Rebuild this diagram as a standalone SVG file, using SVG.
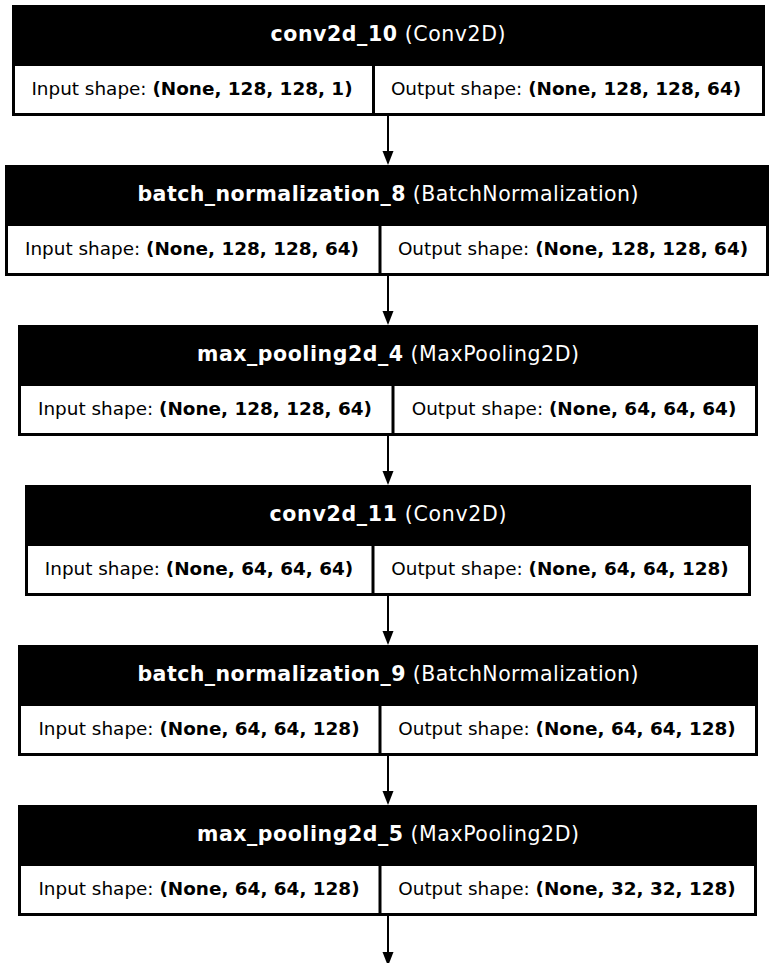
<svg xmlns="http://www.w3.org/2000/svg" width="776" height="963" viewBox="0 0 776 963">
<style>
.box{fill:#000}
.cell{fill:#fff}
.hd{font-family:"DejaVu Sans",sans-serif;font-size:20.5px;fill:#fff;text-anchor:middle}
.ct{font-family:"DejaVu Sans",sans-serif;font-size:18.4px;fill:#000;text-anchor:middle}
.b{font-weight:bold}
.edge{stroke:#000;stroke-width:2;fill:none}
</style>
<rect width="776" height="963" fill="#fff"/>
<g id="connectors">
<line class="edge" x1="388" y1="116" x2="388" y2="151"/><path d="M382.5,151 L393.5,151 L388,165 Z"/>
<line class="edge" x1="388" y1="276" x2="388" y2="311"/><path d="M382.5,311 L393.5,311 L388,325 Z"/>
<line class="edge" x1="388" y1="436" x2="388" y2="471"/><path d="M382.5,471 L393.5,471 L388,485 Z"/>
<line class="edge" x1="388" y1="596" x2="388" y2="631"/><path d="M382.5,631 L393.5,631 L388,645 Z"/>
<line class="edge" x1="388" y1="756" x2="388" y2="791"/><path d="M382.5,791 L393.5,791 L388,805 Z"/>
<line class="edge" x1="388" y1="916" x2="388" y2="952"/><path d="M382.5,952 L393.5,952 L388,966 Z"/>
</g>
<g id="conv2d_10">
<rect class="box" x="12" y="5" width="753" height="111"/>
<rect class="cell" x="15" y="66" width="357" height="47"/>
<rect class="cell" x="375" y="66" width="387" height="47"/>
<text class="hd" x="388" y="41" textLength="235"><tspan class="b">conv2d_10</tspan> (Conv2D)</text>
<text class="ct" x="192" y="94.5">Input shape: <tspan class="b">(None, 128, 128, 1)</tspan></text>
<text class="ct" x="566" y="94.5">Output shape: <tspan class="b">(None, 128, 128, 64)</tspan></text>
</g>
<g id="batch_normalization_8">
<rect class="box" x="5" y="165" width="764" height="111"/>
<rect class="cell" x="8" y="226" width="370.5" height="47"/>
<rect class="cell" x="381.5" y="226" width="384.5" height="47"/>
<text class="hd" x="388" y="201" textLength="501"><tspan class="b">batch_normalization_8</tspan> (BatchNormalization)</text>
<text class="ct" x="192" y="254.5">Input shape: <tspan class="b">(None, 128, 128, 64)</tspan></text>
<text class="ct" x="573" y="254.5">Output shape: <tspan class="b">(None, 128, 128, 64)</tspan></text>
</g>
<g id="max_pooling2d_4">
<rect class="box" x="18" y="325" width="740" height="111"/>
<rect class="cell" x="21" y="386" width="370.5" height="47"/>
<rect class="cell" x="394.5" y="386" width="360.5" height="47"/>
<text class="hd" x="388" y="361" textLength="382"><tspan class="b">max_pooling2d_4</tspan> (MaxPooling2D)</text>
<text class="ct" x="205" y="414.5">Input shape: <tspan class="b">(None, 128, 128, 64)</tspan></text>
<text class="ct" x="574" y="414.5">Output shape: <tspan class="b">(None, 64, 64, 64)</tspan></text>
</g>
<g id="conv2d_11">
<rect class="box" x="25" y="485" width="726" height="111"/>
<rect class="cell" x="28" y="546" width="343.5" height="47"/>
<rect class="cell" x="374.5" y="546" width="373.5" height="47"/>
<text class="hd" x="388" y="521" textLength="237"><tspan class="b">conv2d_11</tspan> (Conv2D)</text>
<text class="ct" x="199" y="574.5">Input shape: <tspan class="b">(None, 64, 64, 64)</tspan></text>
<text class="ct" x="560" y="574.5">Output shape: <tspan class="b">(None, 64, 64, 128)</tspan></text>
</g>
<g id="batch_normalization_9">
<rect class="box" x="18" y="645" width="740" height="111"/>
<rect class="cell" x="21" y="706" width="357.5" height="47"/>
<rect class="cell" x="381.5" y="706" width="373.5" height="47"/>
<text class="hd" x="388" y="681" textLength="501"><tspan class="b">batch_normalization_9</tspan> (BatchNormalization)</text>
<text class="ct" x="199" y="734.5">Input shape: <tspan class="b">(None, 64, 64, 128)</tspan></text>
<text class="ct" x="567" y="734.5">Output shape: <tspan class="b">(None, 64, 64, 128)</tspan></text>
</g>
<g id="max_pooling2d_5">
<rect class="box" x="18" y="805" width="739" height="111"/>
<rect class="cell" x="21" y="866" width="357.5" height="47"/>
<rect class="cell" x="381.5" y="866" width="372.5" height="47"/>
<text class="hd" x="388" y="841" textLength="382"><tspan class="b">max_pooling2d_5</tspan> (MaxPooling2D)</text>
<text class="ct" x="199" y="894.5">Input shape: <tspan class="b">(None, 64, 64, 128)</tspan></text>
<text class="ct" x="567" y="894.5">Output shape: <tspan class="b">(None, 32, 32, 128)</tspan></text>
</g>
</svg>
